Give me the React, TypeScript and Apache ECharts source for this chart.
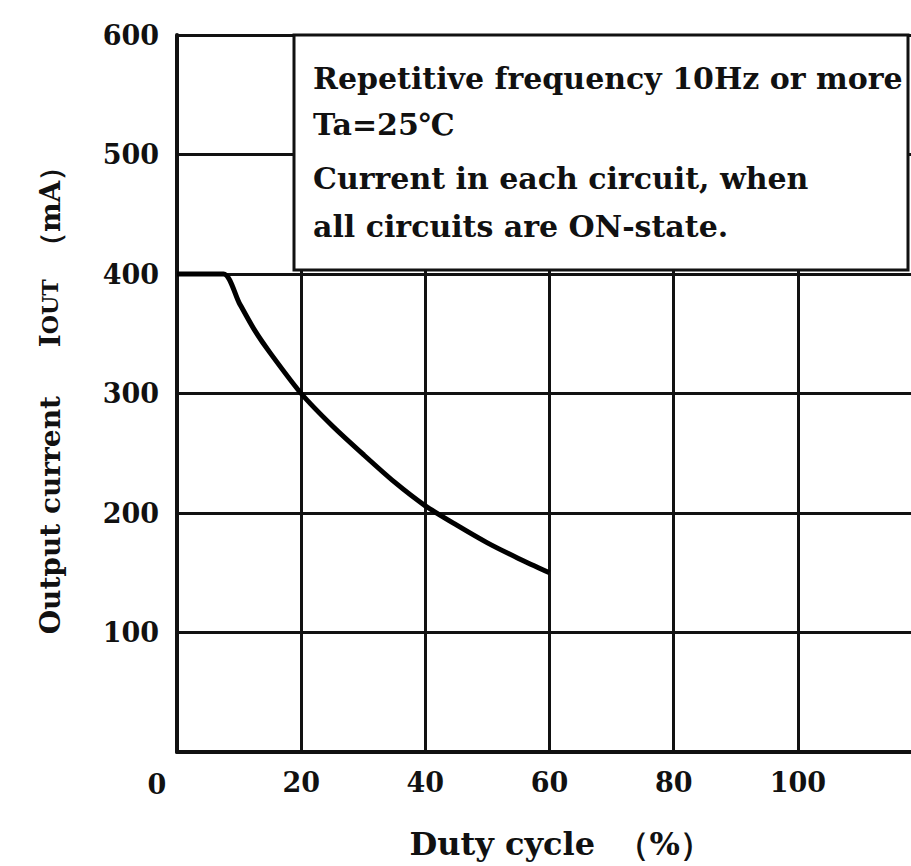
import React, { useEffect, useRef } from "react";
import * as echarts from "echarts";

const dutyCycle = [0, 7.5, 10, 12.5, 15, 20, 25, 30, 35, 40, 45, 50, 55, 60];
const outputCurrent = [400, 400, 376, 353, 334, 300, 273, 249, 226, 206, 190, 175, 162, 150];
const noteLines = [
  "Repetitive frequency 10Hz or more",
  "Ta=25℃",
  "Current in each circuit, when",
  "all circuits are ON-state.",
];
const xAxisTitle = "  Duty cycle  （%）";
const yAxisTitle = "Output current     I{s|OUT}  （mA）";

const FONT = "'DejaVu Serif', 'Liberation Serif', serif";

export default function App() {
  const ref = useRef<HTMLDivElement>(null);
  useEffect(() => {
    document.body.style.margin = "0";
    const chart = echarts.init(ref.current!, undefined, { renderer: "svg" });
    const noteY = [78, 124, 178, 226];
    chart.setOption({
      animation: false,
      backgroundColor: "#fff",
      grid: { left: 177, top: 35, width: 745, height: 717, outerBoundsMode: "none", containLabel: false },
      xAxis: {
        type: "value",
        min: 0,
        max: 120,
        interval: 20,
        name: xAxisTitle,
        nameLocation: "middle",
        nameGap: 76,
        nameTextStyle: { fontFamily: FONT, fontWeight: "bold", fontSize: 32, color: "#111" },
        axisLine: { show: true, onZero: false, lineStyle: { color: "#111", width: 4 } },
        axisTick: { show: false },
        splitLine: { show: true, lineStyle: { color: "#111", width: 3 } },
        axisLabel: {
          margin: 17,
          fontFamily: FONT,
          fontWeight: "bold",
          fontSize: 27,
          color: "#111",
          formatter: (v: number) => (v === 0 || v === 120 ? "" : String(v)),
        },
      },
      yAxis: {
        type: "value",
        min: 0,
        max: 600,
        interval: 100,
        name: yAxisTitle,
        nameLocation: "middle",
        nameRotate: 90,
        nameGap: 113,
        nameTextStyle: {
          fontFamily: FONT,
          fontWeight: "bold",
          fontSize: 28,
          color: "#111",
          rich: {
            s: { fontFamily: FONT, fontWeight: "bold", fontSize: 22, color: "#111" },
          },
        },
        axisLine: { show: true, lineStyle: { color: "#111", width: 4 } },
        axisTick: { show: false },
        splitLine: { show: true, lineStyle: { color: "#111", width: 3 } },
        axisLabel: {
          margin: 18,
          fontFamily: FONT,
          fontWeight: "bold",
          fontSize: 27,
          color: "#111",
          formatter: (v: number) => (v === 0 ? "" : String(v)),
        },
      },
      series: [
        {
          type: "line",
          data: dutyCycle.map((d, i) => [d, outputCurrent[i]]),
          smooth: 0.25,
          showSymbol: false,
          lineStyle: { color: "#000", width: 5 },
          z: 5,
        },
      ],
      graphic: [
        {
          type: "rect",
          z: 100,
          shape: { x: 294, y: 35, width: 614, height: 235 },
          style: { fill: "#fff", stroke: "#111", lineWidth: 3 },
        },
        ...noteLines.map((t, i) => ({
          type: "text",
          z: 101,
          x: 313,
          y: noteY[i],
          style: {
            text: t,
            fill: "#111",
            font: `bold 30px ${FONT}`,
            verticalAlign: "middle",
            align: "left",
          },
        })),
        {
          type: "text",
          z: 101,
          x: 157,
          y: 784,
          style: {
            text: "0",
            fill: "#111",
            font: `bold 27px ${FONT}`,
            verticalAlign: "middle",
            align: "center",
          },
        },
      ],
    });
    return () => chart.dispose();
  }, []);
  return <div ref={ref} style={{ width: 911, height: 866 }} />;
}
